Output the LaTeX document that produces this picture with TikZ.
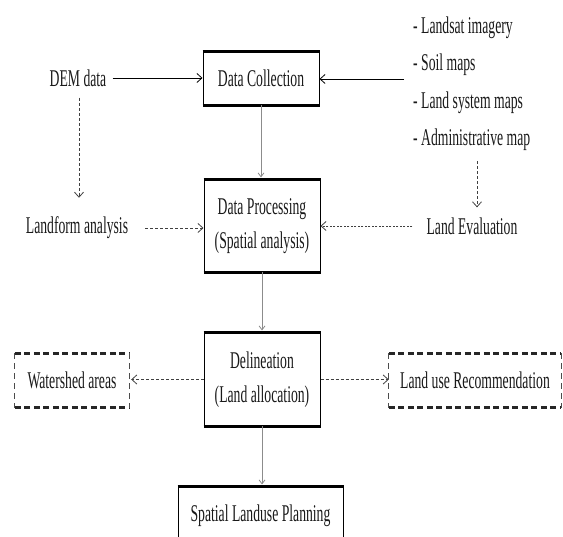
\documentclass[tikz,border=0pt]{standalone}
\usepackage{fontspec}
\setmainfont{Liberation Serif}[FakeStretch=0.57]
\usetikzlibrary{arrows.meta}
\begin{document}
\begin{tikzpicture}[x=1pt,y=-1pt,
  every node/.style={font=\fontsize{24}{34}\selectfont, text=black!90, inner sep=0pt},
  box/.style={draw=black, line width=1pt, minimum width=116pt, align=center},
  plain/.style={},
  conn/.style={line width=0.8pt, -{Straight Barb[length=5pt,width=9pt]}},
  dsh/.style={conn, draw=black!75, dash pattern=on 3pt off 2pt},
  gconn/.style={line width=0.8pt, draw=black!45, -{Straight Barb[length=4pt,width=6pt]}},
  thickedge/.style={line width=3pt},
  dtop/.style={line width=2.5pt, draw=black!85, dash pattern=on 6pt off 3.5pt},
  dside/.style={line width=1pt, draw=black!70, dash pattern=on 6pt off 4pt},
]
\useasboundingbox (0,0) rectangle (563,537);
\clip (0,0) rectangle (563,537);

% main boxes
\node[box, minimum height=53pt] (dc) at (261,78.5) {Data Collection};
\node[box, minimum height=92pt] (dp) at (262,226) {Data Processing\\(Spatial analysis)};
\node[box, minimum height=93pt] (del) at (262,379.5) {Delineation\\(Land allocation)};
\node[box, minimum width=165pt, minimum height=58pt] (sp) at (260.5,516) {Spatial Landuse Planning};
\foreach \n in {dc,dp,del,sp}{
  \draw[thickedge] (\n.north west) -- (\n.north east);
  \draw[thickedge] (\n.south west) -- (\n.south east);
}

% dashed boxes
\node[minimum width=114pt, minimum height=54pt] (ws) at (72,380.5) {Watershed areas};
\node[minimum width=172pt, minimum height=54pt] (lu) at (475,380.5) {Land use Recommendation};
\foreach \n in {ws,lu}{
  \draw[dtop] (\n.north west) -- (\n.north east);
  \draw[dtop] (\n.south west) -- (\n.south east);
  \draw[dside] (\n.north west) -- (\n.south west);
  \draw[dside] (\n.north east) -- (\n.south east);
}

% plain texts
\node[plain] (dem) at (78,78) {DEM data};
\node[plain] (lf) at (77,228) {Landform analysis};
\node[plain] (le) at (472,226) {Land Evaluation};
\node[plain, anchor=west] (l1) at (413,28) {- Landsat imagery};
\node[plain, anchor=west] (l2) at (413,65) {- Soil maps};
\node[plain, anchor=west] (l3) at (413,103) {- Land system maps};
\node[plain, anchor=west] (l4) at (413,140) {- Administrative map};
\coordinate (lp) at (404,79);

% connectors
\draw[conn] ([xshift=6pt]dem.east) -- (dem.east -| dc.west);
\draw[conn] (lp) -- (lp -| dc.east);
\draw[dsh, shorten <=11pt, shorten >=19pt] ([xshift=1pt]dem.south) -- ([xshift=1pt]dem.south |- lf.north);
\draw[dsh, shorten <=10pt, shorten >=10pt] ([xshift=5pt]le.north |- l4.south) -- ([xshift=5pt]le.north);
\draw[dsh] ([xshift=17pt]lf.east) -- (lf.east -| dp.west);
\draw[dsh, dash pattern=on 2pt off 1.5pt] ([xshift=-14pt]le.west) -- (le.west -| dp.east);
\draw[dsh, shorten >=2pt] (del.west) -- (del.west -| ws.east);
\draw[dsh] (del.east) -- (del.east -| lu.west);
\draw[gconn, shorten >=2pt] (dc.south) -- (dc.south |- dp.north);
\draw[gconn, shorten >=2pt] (dp.south) -- (dp.south |- del.north);
\draw[gconn, shorten >=2pt] (del.south) -- (del.south |- sp.north);
\end{tikzpicture}
\end{document}
